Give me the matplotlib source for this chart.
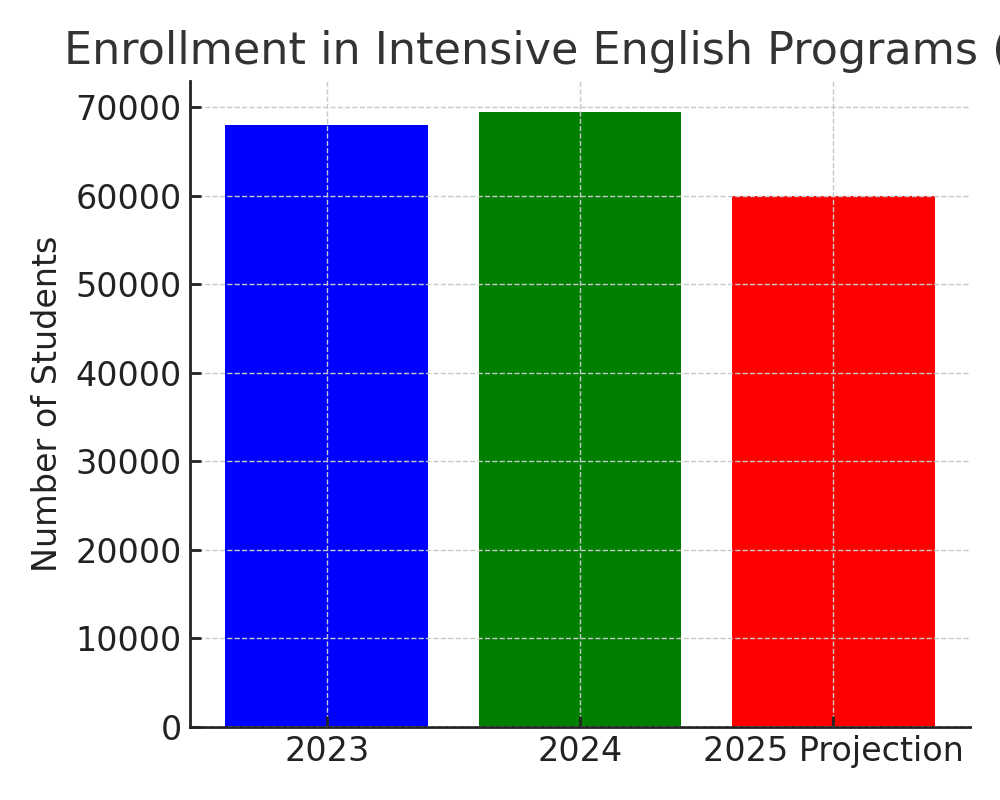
import matplotlib
matplotlib.use("Agg")
import matplotlib.pyplot as plt

# enrollment figures
categories = ["2023", "2024", "2025 Projection"]
students = [68000, 69500, 60000]
bar_colors = ["blue", "green", "red"]

fig = plt.figure(figsize=(10, 8), dpi=100)
ax = fig.add_axes([0.19, 0.09125, 0.78, 0.8075])

ax.bar(categories, students, color=bar_colors, width=0.8, zorder=1)

# the reference title runs past the right edge, so it is left cut off
ax.set_title("Enrollment in Intensive English Programs (US)", fontsize=32,
             color="#333333", pad=12, x=0.495)
ax.set_ylabel("Number of Students", fontsize=24, color="#222222", labelpad=8)

ax.grid(True, linestyle="--", color="#c8c8c8", linewidth=1.0, zorder=2)
ax.set_axisbelow(False)
ax.tick_params(axis="both", direction="in", length=8, width=2, labelsize=24, colors="#222222", pad=6)
for side in ("top", "right"):
    ax.spines[side].set_visible(False)
for side in ("left", "bottom"):
    ax.spines[side].set_linewidth(2)
    ax.spines[side].set_color("#222222")

fig.savefig("out.png", dpi=100)
